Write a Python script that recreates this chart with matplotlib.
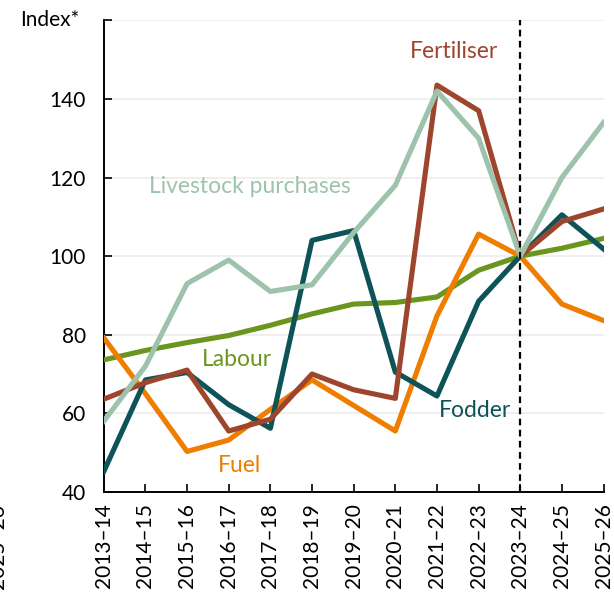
import matplotlib
matplotlib.use('Agg')
import matplotlib.pyplot as plt

plt.rcParams['font.family'] = ['Lato', 'DejaVu Sans']

# financial years
years = ['2013–14', '2014–15', '2015–16', '2016–17', '2017–18', '2018–19', '2019–20',
         '2020–21', '2021–22', '2022–23', '2023–24', '2024–25', '2025–26']

# index values (2023–24 = 100)
livestock = [58, 72, 93, 99, 91, 92.7, 106, 118, 142, 130, 100, 120, 134]
fertiliser = [63.6, 67.8, 71, 55.5, 58.5, 70, 66, 63.8, 143.5, 137, 100, 108.8, 112]
fodder = [45.2, 68.5, 70.4, 62.2, 56.2, 104, 106.5, 70.5, 64.4, 88.5, 100, 110.5, 101.8]
fuel = [79.2, 65, 50.3, 53.2, 61, 68.5, 62, 55.5, 84.8, 105.6, 100, 87.8, 83.6]
labour = [73.6, 76, 78, 79.8, 82.4, 85.3, 87.8, 88.2, 89.6, 96.4, 100, 102, 104.5]

col_live = '#9dc3ad'
col_fert = '#9e452d'
col_fod = '#0e5358'
col_fuel = '#ef7d00'
col_lab = '#6a951f'

fig = plt.figure(figsize=(6.14, 5.97), dpi=100)
ax = fig.add_axes([0.169, 0.176, 0.814, 0.790])

x = range(len(years))
lw = 3.7
ax.plot(x, labour, color=col_lab, lw=lw, zorder=3)
ax.plot(x, fuel, color=col_fuel, lw=lw, zorder=3)
ax.plot(x, fodder, color=col_fod, lw=lw, zorder=3)
ax.plot(x, fertiliser, color=col_fert, lw=lw, zorder=3)
ax.plot(x, livestock, color=col_live, lw=lw, zorder=3)

# projection divider
ax.axvline(10, color='black', lw=1.6, ls=(0, (3, 2)), zorder=4)

ax.set_xlim(0, 12)
ax.set_ylim(40, 160)
ax.set_yticks([40, 60, 80, 100, 120, 140, 160])
ax.set_yticklabels(['40', '60', '80', '100', '120', '140', ''])
ax.set_xticks(list(x))
ax.set_xticklabels(years, rotation=90)
ax.grid(axis='y', color='#ececec', lw=1.2, zorder=0)
ax.tick_params(direction='in', length=6, width=1.2, labelsize=15, color='black')
ax.tick_params(axis='y', pad=13)
ax.tick_params(axis='x', pad=8)
for s in ['top', 'right']:
    ax.spines[s].set_visible(False)
for s in ['left', 'bottom']:
    ax.spines[s].set_linewidth(1.4)

fs = 16.5
ax.text(8.4, 152, 'Fertiliser', color=col_fert, fontsize=fs, ha='center', va='center')
ax.text(3.5, 117.6, 'Livestock purchases', color=col_live, fontsize=fs, ha='center', va='center')
ax.text(3.2, 73.6, 'Labour', color=col_lab, fontsize=fs, ha='center', va='center')
ax.text(8.92, 60.6, 'Fodder', color=col_fod, fontsize=fs, ha='center', va='center')
ax.text(3.27, 46.6, 'Fuel', color=col_fuel, fontsize=fs, ha='center', va='center')

fig.text(0.081, 0.966, 'Index*', fontsize=15, ha='center', va='center')
# clipped label from the neighbouring panel
fig.text(-0.003, 0.085, '2025–26', fontsize=15, rotation=90, ha='center', va='center')

fig.savefig('out.png', dpi=100)
